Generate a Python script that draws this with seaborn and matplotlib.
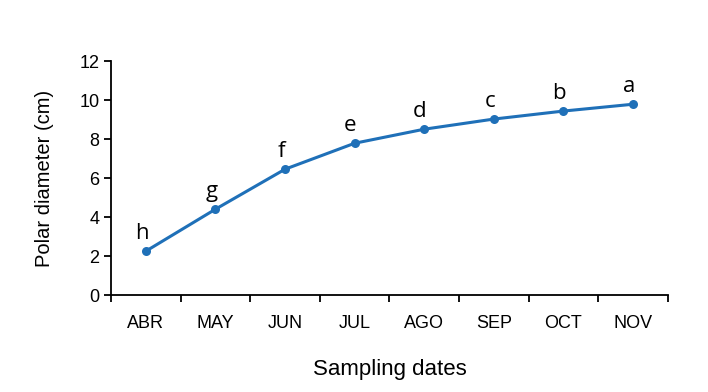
import matplotlib
matplotlib.use("Agg")
import matplotlib.pyplot as plt
import seaborn as sns
import pandas as pd

# data
months = ["ABR", "MAY", "JUN", "JUL", "AGO", "SEP", "OCT", "NOV"]
polar_diameter = [2.26, 4.41, 6.46, 7.79, 8.51, 9.03, 9.44, 9.79]
letters = ["h", "g", "f", "e", "d", "c", "b", "a"]

df = pd.DataFrame({"Month": months, "Diameter": polar_diameter, "Letter": letters})
df["pos"] = range(len(df))

sns.set_style("ticks")
plt.rcParams["font.family"] = ["Liberation Sans", "DejaVu Sans"]
plt.rcParams["text.color"] = "black"
plt.rcParams["axes.labelcolor"] = "black"
plt.rcParams["xtick.color"] = "black"
plt.rcParams["ytick.color"] = "black"

fig = plt.figure(figsize=(7.08, 3.92), dpi=100)
ax = fig.add_axes([0.157, 0.247, 0.786, 0.597])

sns.lineplot(data=df, x="pos", y="Diameter", color="#1F70B8", linewidth=2.2,
             marker="o", markersize=6.5, markeredgewidth=0, ax=ax)

for _, row in df.iterrows():
    ax.annotate(row["Letter"], (row["pos"], row["Diameter"]),
                xytext=(-3, 5), textcoords="offset points",
                ha="center", va="bottom", fontsize=16, family="Open Sans",
                color="black")

ax.set_xlim(-0.5, len(months) - 0.5)
ax.set_ylim(0, 12)
ax.set_yticks(range(0, 13, 2))
ax.set_xticks([i - 0.5 for i in range(len(months) + 1)])
ax.set_xticklabels([])
ax.set_xticks(range(len(months)), labels=months, minor=True)
ax.tick_params(axis="x", which="minor", length=0, labelsize=13, pad=14)
ax.tick_params(axis="x", which="major", length=5, width=1.3, direction="out")
ax.tick_params(axis="y", length=5, width=1.3, direction="out", labelsize=13)

for side in ["top", "right"]:
    ax.spines[side].set_visible(False)
for side in ["left", "bottom"]:
    ax.spines[side].set_linewidth(1.3)
    ax.spines[side].set_color("black")

ax.set_xlabel("Sampling dates", fontsize=16, labelpad=20)
ax.set_ylabel("Polar diameter (cm)", fontsize=14.5, labelpad=18)

fig.savefig("out.png", dpi=100)
